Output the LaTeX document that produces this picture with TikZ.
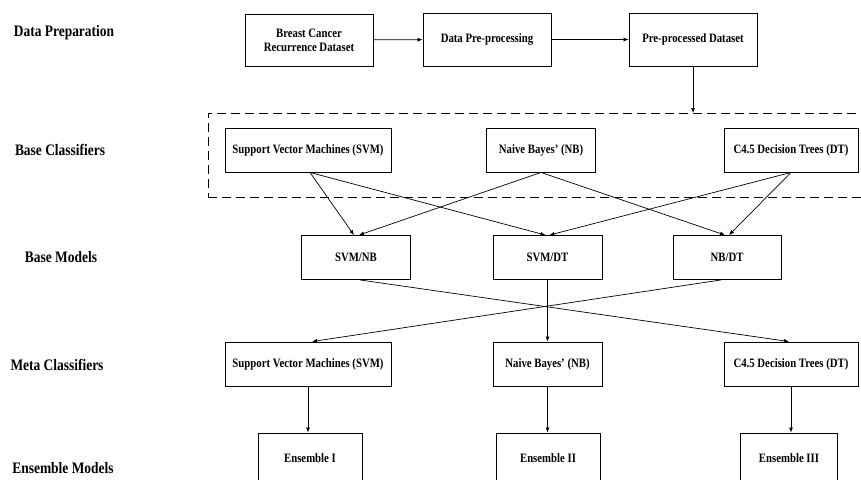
\documentclass[tikz,border=0pt]{standalone}
\usepackage{fontspec}
\setmainfont{Liberation Serif}[FakeStretch=0.84]
\usetikzlibrary{arrows.meta}

\tikzset{
  box/.style={draw, line width=0.9pt, fill=white, align=center, inner sep=0pt,
    font=\fontsize{12.8}{14}\selectfont\bfseries},
  stage/.style={font=\fontsize{16}{17}\selectfont\bfseries, inner sep=0pt},
  link/.style={line width=0.7pt, -{Latex[length=5pt,width=4pt]}},
  group/.style={draw, line width=0.9pt, dash pattern=on 9pt off 5pt}
}
\newcommand{\apos}{{\char"0027}}

\begin{document}
\begin{tikzpicture}[x=1pt, y=-1pt]
  \clip (0,0) rectangle (861,479);
  \fill[white] (0,0) rectangle (861,479);

  % stage labels
  \node[stage] (lprep) at (64,33)  {Data Preparation};
  \node[stage] (lbase) at (60,150) {Base Classifiers};
  \node[stage] (lmod)  at (61,257) {Base Models};
  \node[stage] (lmeta) at (57,365) {Meta Classifiers};
  \node[stage] (lens)  at (63,468) {Ensemble Models};

  % data preparation
  \node[box, minimum width=128pt, minimum height=52pt] (bc)  at (309,40)
    {Breast Cancer\\Recurrence Dataset};
  \node[box, minimum width=128pt, minimum height=53pt] (dpp) at (487,39.5)
    {Data Pre-processing};
  \node[box, minimum width=128pt, minimum height=53pt] (ppd) at (693,39.5)
    {Pre-processed Dataset};

  % base classifier group
  \node[group, minimum width=660pt, minimum height=84pt, anchor=north west]
    (grp) at (208,113) {};

  \node[box, minimum width=166pt, minimum height=44pt] (svm) at (308,150)
    {Support Vector Machines (SVM)};
  \node[box, minimum width=109pt, minimum height=44pt] (nb)  at (541,150)
    {Naive Bayes\apos{} (NB)};
  \node[box, minimum width=134pt, minimum height=44pt] (dt)  at (791,150)
    {C4.5 Decision Trees (DT)};

  % base models
  \node[box, minimum width=109pt, minimum height=44pt] (svmnb) at (356,257.5) {SVM/NB};
  \node[box, minimum width=109pt, minimum height=44pt] (svmdt) at (547.5,257.5) {SVM/DT};
  \node[box, minimum width=108pt, minimum height=44pt] (nbdt)  at (727,257.5) {NB/DT};

  % meta classifiers
  \node[box, minimum width=166pt, minimum height=44pt] (msvm) at (308,364)
    {Support Vector Machines (SVM)};
  \node[box, minimum width=109pt, minimum height=44pt] (mnb)  at (547.5,364)
    {Naive Bayes\apos{} (NB)};
  \node[box, minimum width=134pt, minimum height=44pt] (mdt)  at (791,364)
    {C4.5 Decision Trees (DT)};

  % ensembles
  \node[box, minimum width=104pt, minimum height=50pt] (e1) at (310,458) {Ensemble I};
  \node[box, minimum width=104pt, minimum height=50pt] (e2) at (548,458) {Ensemble II};
  \node[box, minimum width=97pt,  minimum height=50pt] (e3) at (789,458) {Ensemble III};

  % connectors
  \draw[link] (bc) -- (dpp);
  \draw[link] (dpp) -- (ppd);
  \draw[link] (ppd.south) -- (grp.north -| ppd.south);

  \draw[link] ([xshift=2pt]svm.south) -- ([xshift=-2pt]svmnb.north);
  \draw[link] ([xshift=2pt]svm.south) -- ([xshift=-2pt]svmdt.north);
  \draw[link] (nb.south) -- ([xshift=3pt]svmnb.north);
  \draw[link] (nb.south) -- ([xshift=-2pt]nbdt.north);
  \draw[link] (dt.south) -- ([xshift=2pt]svmdt.north);
  \draw[link] (dt.south) -- ([xshift=2pt]nbdt.north);

  \draw[link] ([xshift=4pt]svmnb.south) -- ([xshift=-2pt]mdt.north);
  \draw[link] (svmdt.south) -- (mnb.north);
  \draw[link] ([xshift=-6pt]nbdt.south) -- ([xshift=4pt]msvm.north);

  \draw[link] (msvm.south) -- (e1.north -| msvm.south);
  \draw[link] (mnb.south) -- (e2.north -| mnb.south);
  \draw[link] (mdt.south) -- (e3.north -| mdt.south);
\end{tikzpicture}
\end{document}
